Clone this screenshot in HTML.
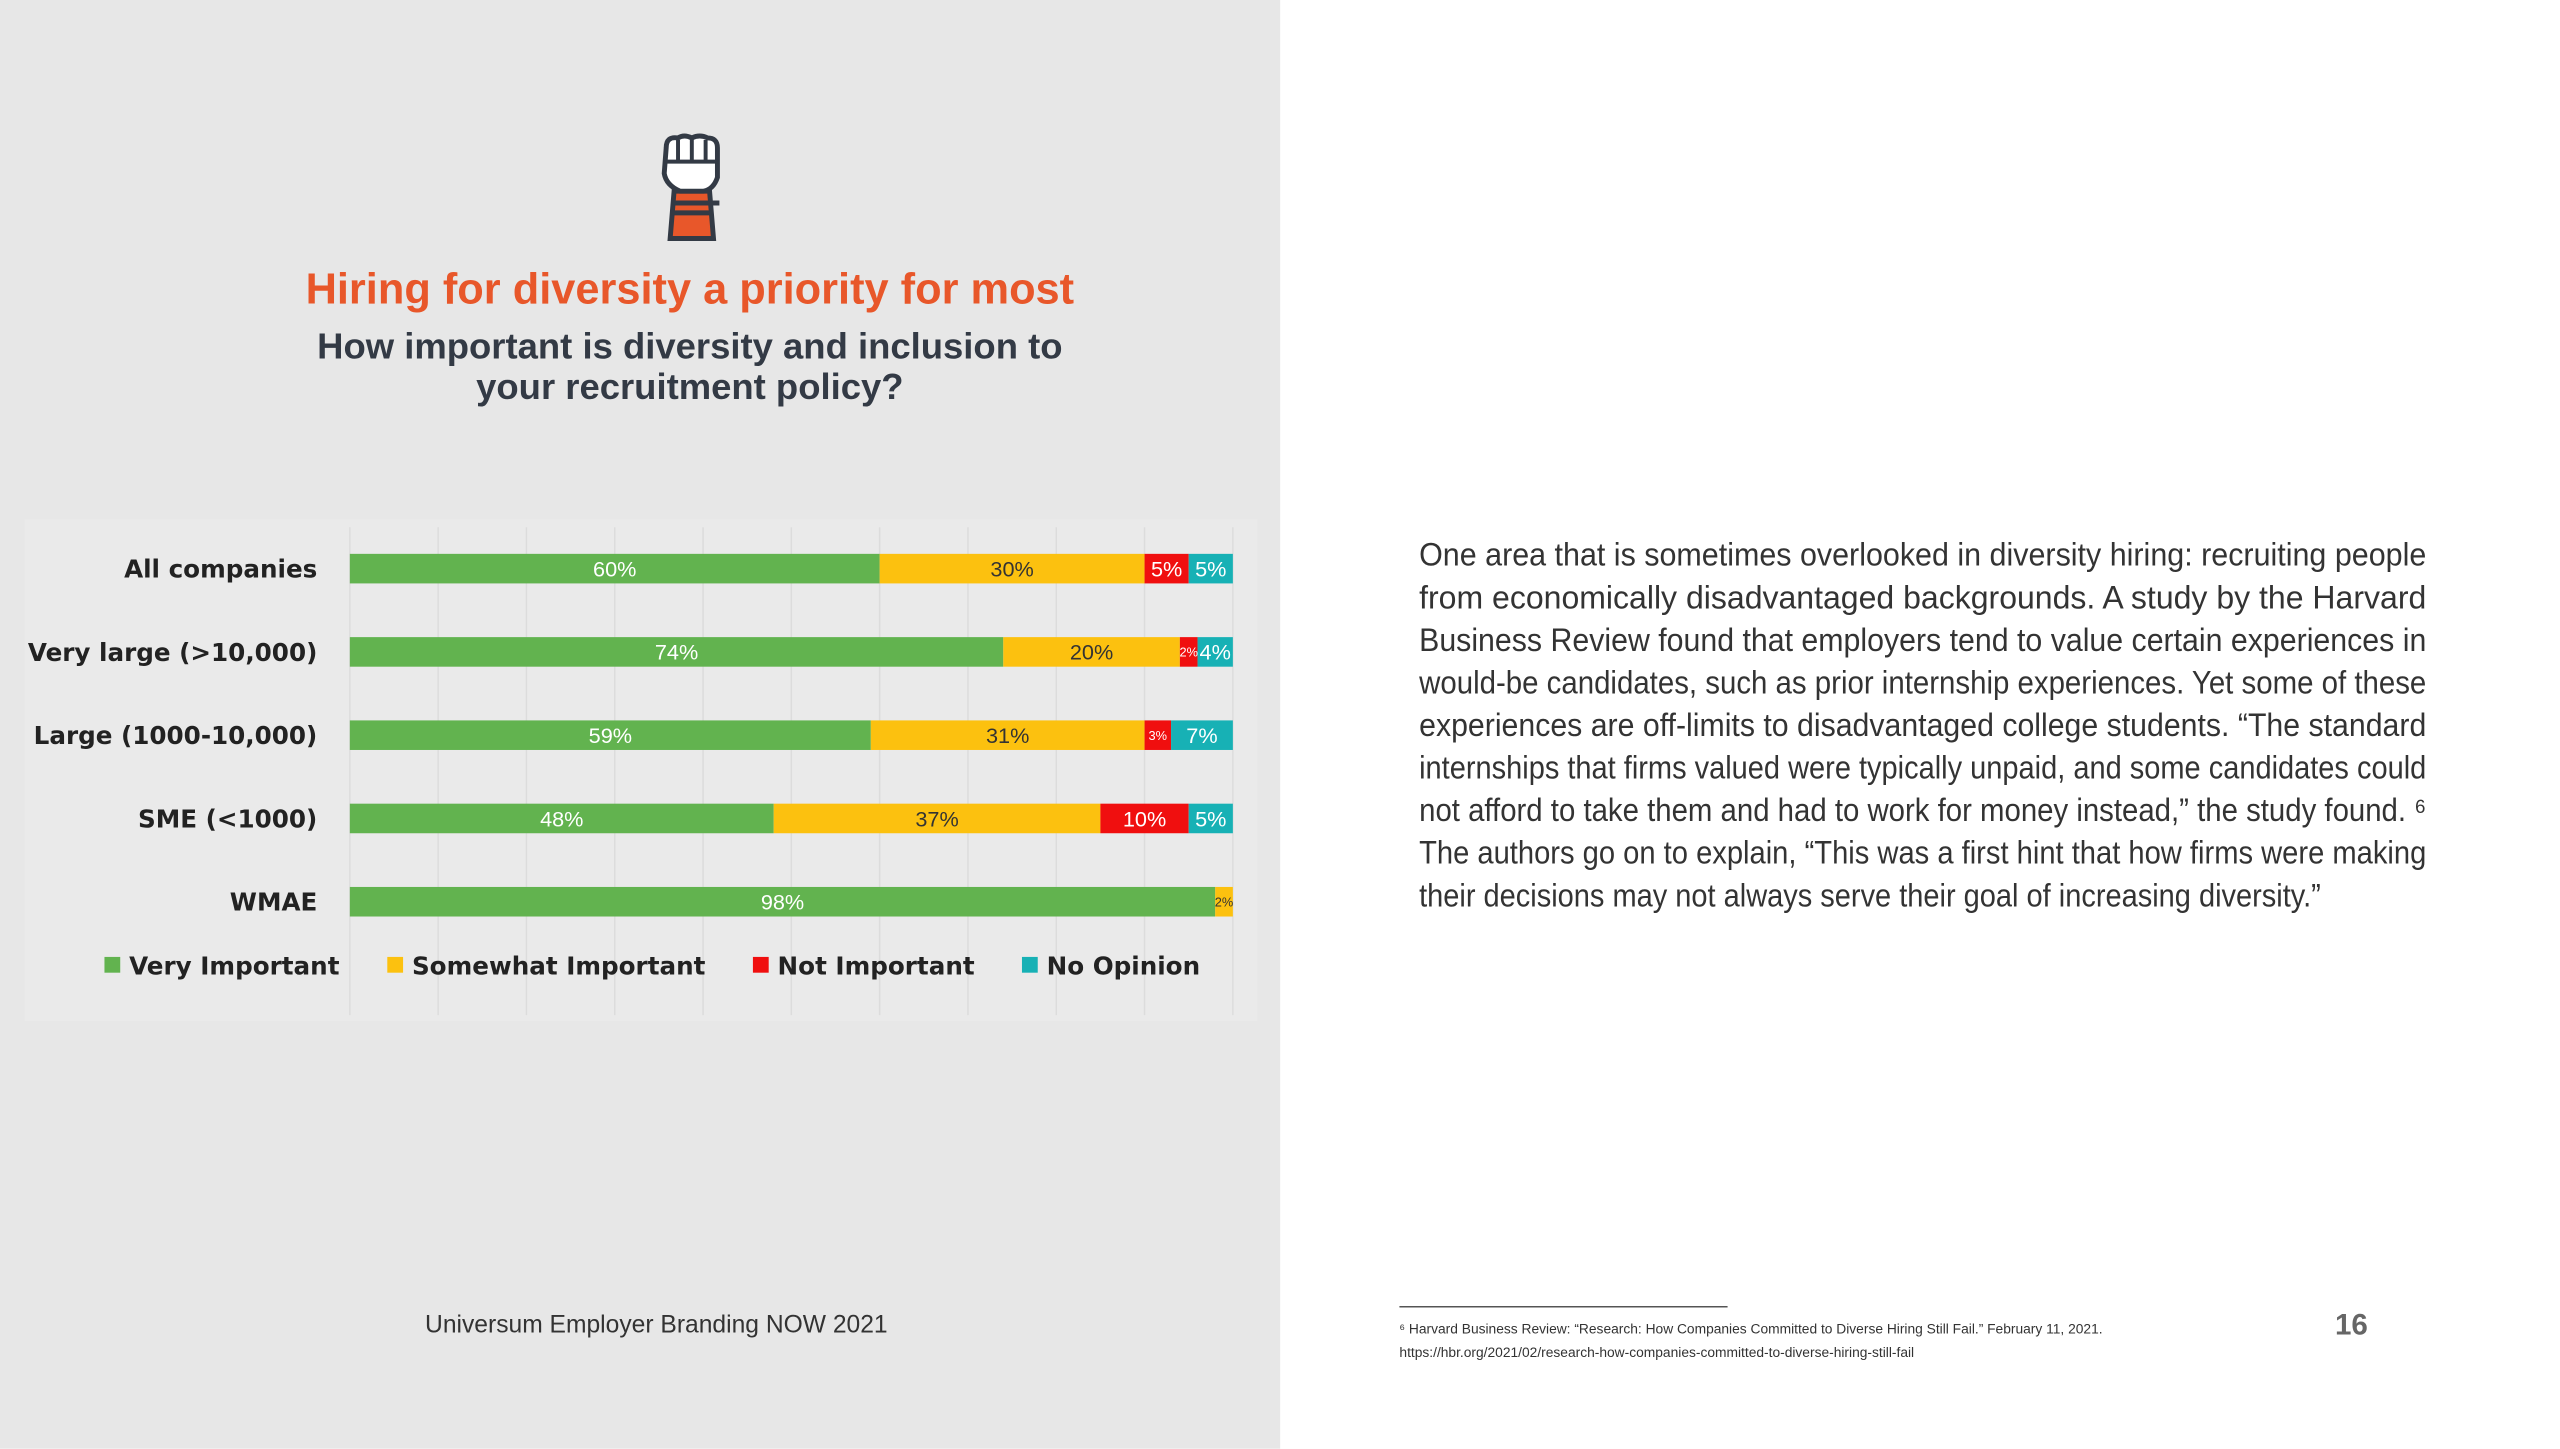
<!DOCTYPE html>
<html><head><meta charset="utf-8"><style>
body{margin:0;width:2560px;height:1440px;position:relative;background:#fff;overflow:hidden;font-family:"Liberation Sans",sans-serif}
#wrap{position:absolute;left:0;top:0;width:2600px;height:1470px;transform:scale(0.9855);transform-origin:0 0}
#left{position:absolute;left:0;top:0;width:1299px;height:1470px;background:#e7e7e7}
</style></head><body>
<div id="wrap">
<div id="left"></div>
<svg width="2600" height="1470" style="position:absolute;left:0;top:0">
<g transform="translate(668,136)">
<path d="M12 106 L16 58 L52 58 L56 106 Z" fill="#e8572a" stroke="#333a45" stroke-width="5"/>
<path d="M8 14 Q8 2 20 4 Q26 0 34 4 Q42 0 50 4 Q60 4 60 14 L60 44 Q56 56 46 58 L22 58 Q8 52 6 40 Z" fill="#fff" stroke="#333a45" stroke-width="5"/>
<path d="M20 6 L20 28 M34 5 L34 28 M48 6 L48 28 M6 28 L60 28" stroke="#333a45" stroke-width="4" fill="none"/>
<path d="M14 70 L62 70 M14 80 L54 80" stroke="#333a45" stroke-width="5"/>
</g>
<text x="700" y="308" text-anchor="middle" font-family="Liberation Sans" font-weight="bold" font-size="44" fill="#e8572a">Hiring for diversity a priority for most</text>
<text x="700" y="364" text-anchor="middle" font-family="Liberation Sans" font-weight="bold" font-size="37" fill="#333a45">How important is diversity and inclusion to</text>
<text x="700" y="405" text-anchor="middle" font-family="Liberation Sans" font-weight="bold" font-size="37" fill="#333a45">your recruitment policy?</text>
<rect x="25" y="527" width="1251" height="509" fill="#eaeaea"/>
<g id="chart"></g>
<text x="666" y="1352" text-anchor="middle" font-size="25" fill="#333">Universum Employer Branding NOW 2021</text>
<g id="body" font-family="Liberation Sans" font-size="33" fill="#333"></g>
<line x1="1420" y1="1326" x2="1753" y2="1326" stroke="#555" stroke-width="1.5"/>
<text x="1420" y="1353" font-size="14" fill="#333">⁶ Harvard Business Review: “Research: How Companies Committed to Diverse Hiring Still Fail.” February 11, 2021.</text>
<text x="1420" y="1377" font-size="14" fill="#333">https://hbr.org/2021/02/research-how-companies-committed-to-diverse-hiring-still-fail</text>
<text x="2386" y="1354" text-anchor="middle" font-size="30" font-weight="bold" fill="#666">16</text>
</svg>
</div>
<script>
const categories=["All companies","Very large (>10,000)","Large (1000-10,000)","SME (<1000)","WMAE"];
const veryImportant=[60,74,59,48,98];
const somewhatImportant=[30,20,31,37,2];
const notImportant=[5,2,3,10,0];
const noOpinion=[5,4,7,5,0];
const seriesNames=["Very Important","Somewhat Important","Not Important","No Opinion"];
const gridTicks=[0,10,20,30,40,50,60,70,80,90,100];

const NS="http://www.w3.org/2000/svg";
const colors=["#62b34f","#fcc10f","#f00f0f","#17b1b5"];
const textColors=["#fff","#333","#fff","#fff"];
const x=v=>355+v*8.96;
const y=i=>577+i*84.5;
const g=document.getElementById('chart');
function mk(t,a){const e=document.createElementNS(NS,t);for(const k in a)e.setAttribute(k,a[k]);return e;}
gridTicks.forEach(t=>{const l=mk('line',{x1:x(t),x2:x(t),y1:535,y2:1030,stroke:'#dcdcdc','stroke-width':1.5});

g.appendChild(l);});
const series=[veryImportant,somewhatImportant,notImportant,noOpinion];
categories.forEach((c,i)=>{
 const lb=mk('text',{x:322,y:y(i)+9,'text-anchor':'end','font-family':'DejaVu Sans','font-weight':'bold','font-size':25,fill:'#222'});
 lb.textContent=c;
 
 
 g.appendChild(lb);
 let acc=0;
 series.forEach((s,k)=>{const v=s[i];if(!v)return;
  const r=mk('rect',{x:x(acc),y:y(i)-15,width:x(acc+v)-x(acc),height:30,fill:colors[k]});
  
  
  g.appendChild(r);
  const fs=v<=3?13:22;
  const t=mk('text',{x:(x(acc)+x(acc+v))/2,y:y(i)+fs*0.36,'text-anchor':'middle','font-size':fs,fill:textColors[k]});
  t.textContent=v+'%';
  
  
  g.appendChild(t);
  acc+=v;});
});
const lx=[106,393,764,1037];
seriesNames.forEach((n,k)=>{
 const r=mk('rect',{x:lx[k],y:971,width:16,height:16,fill:colors[k]});
 
 
 g.appendChild(r);
 const t=mk('text',{x:lx[k]+25,y:989,'font-family':'DejaVu Sans','font-weight':'bold','font-size':25,fill:'#222'});
 t.textContent=n;
 
 
 g.appendChild(t);
});
const lines=["One area that is sometimes overlooked in diversity hiring: recruiting people",
"from economically disadvantaged backgrounds. A study by the Harvard",
"Business Review found that employers tend to value certain experiences in",
"would-be candidates, such as prior internship experiences. Yet some of these",
"experiences are off-limits to disadvantaged college students. “The standard",
"internships that firms valued were typically unpaid, and some candidates could",
"not afford to take them and had to work for money instead,” the study found. ⁶",
"The authors go on to explain, “This was a first hint that how firms were making",
"their decisions may not always serve their goal of increasing diversity.”"];
const b=document.getElementById('body');
lines.forEach((l,i)=>{const full=i<lines.length-1;
 const t=mk('text',{x:1440,y:574+i*43.2});
 t.setAttribute('textLength',full?1022:915);
 t.setAttribute('lengthAdjust','spacingAndGlyphs');
 t.textContent=l;
 
 
 b.appendChild(t);});
</script>
</body></html>
